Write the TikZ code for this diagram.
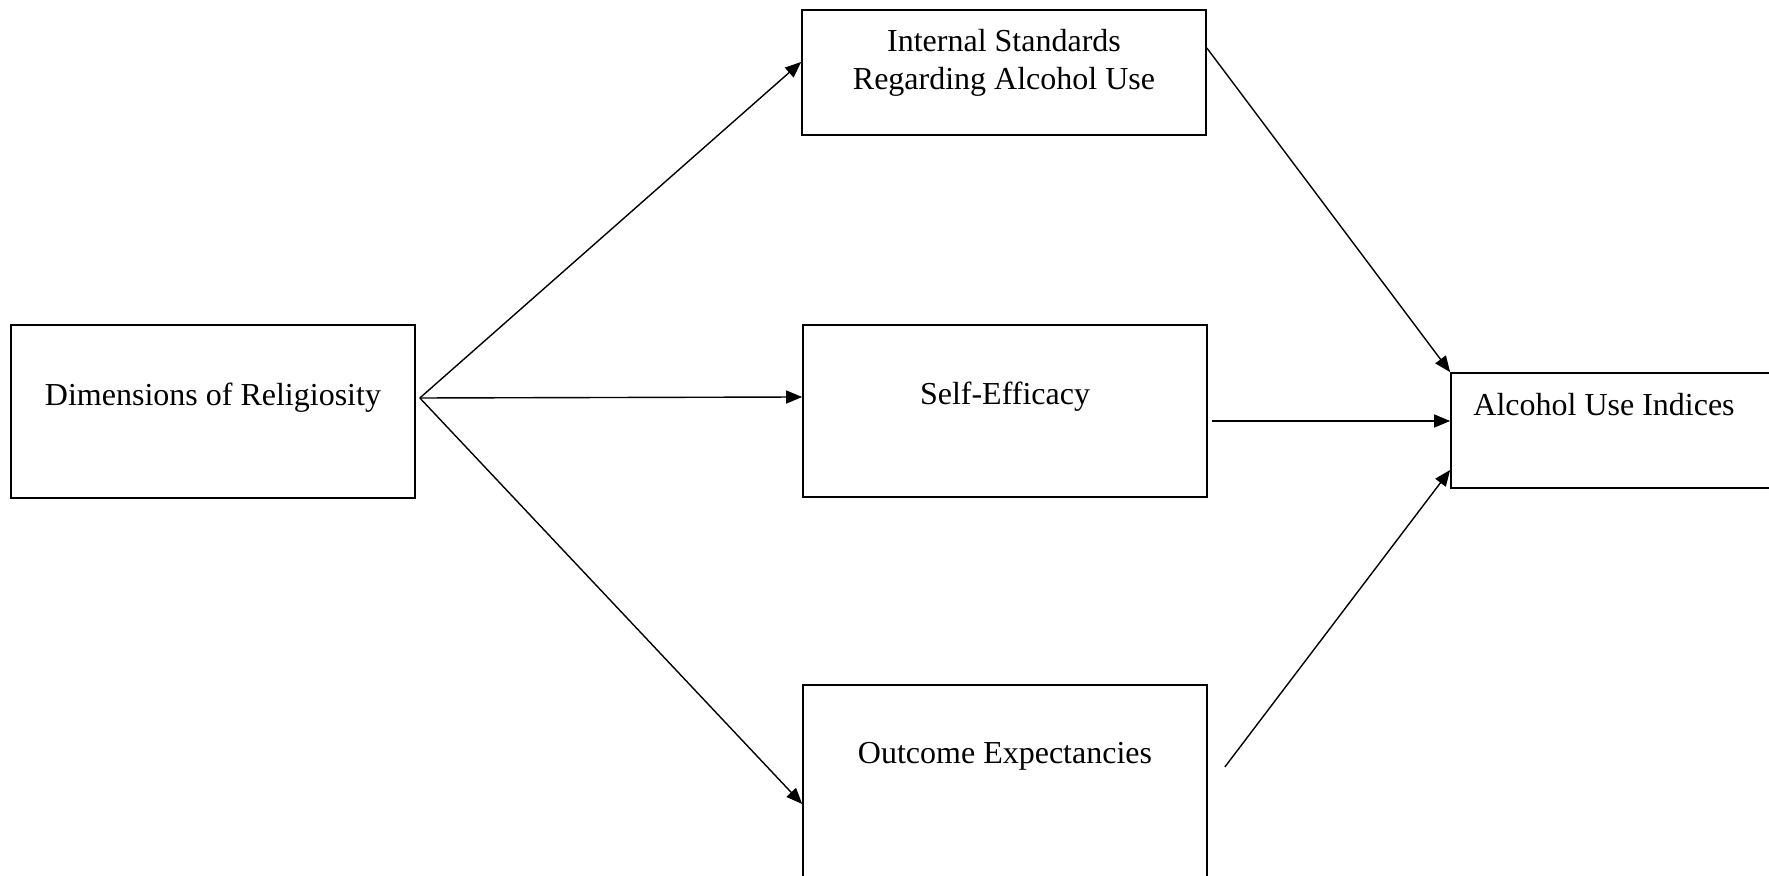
\documentclass[tikz,border=0pt]{standalone}
\usepackage{fontspec}
\setmainfont{Liberation Serif}
\usetikzlibrary{arrows.meta}
\tikzset{
  box/.style={draw=black, line width=0.85pt, rectangle, inner sep=0pt},
  txt/.style={inner sep=0pt, align=center, font=\fontsize{16}{19}\selectfont},
  arr/.style={line width=0.7pt, -{Triangle[length=8pt,width=6.5pt]}}
}
\begin{document}
\begin{tikzpicture}[x=0.5pt,y=-0.5pt]
\clip (0,0) rectangle (1769,876);
\fill[white] (0,0) rectangle (1769,876);
% boxes
\node[box, minimum width=202pt, minimum height=86.5pt] (dim) at (213,411.5) {};
\node[box, minimum width=202pt, minimum height=62.5pt] (ins) at (1004,72.5) {};
\node[box, minimum width=202pt, minimum height=86pt] (self) at (1005,411) {};
\node[box, minimum width=202pt, minimum height=107.5pt] (out) at (1005,792.5) {};
\node[box, minimum width=174.5pt, minimum height=57.5pt] (alc) at (1625.5,430.5) {};
% texts
\node[txt] (dimt) at (213,398) {Dimensions of Religiosity};
\node[txt] (inst) at (1004,62.5) {Internal Standards\\Regarding Alcohol Use};
\node[txt] (selft) at (1005,396.5) {Self-Efficacy};
\node[txt] (outt) at (1005,756.5) {Outcome Expectancies};
\node[txt, anchor=west] (alct) at (1473,405) {Alcohol Use Indices};
% connectors
\coordinate (o) at ([xshift=2pt,yshift=6.75pt]dim.east);
\draw[arr] (o) -- ([yshift=5.25pt]ins.west);
\draw[arr] (o) -- ([yshift=7pt]self.west);
\draw[arr] (o) -- ([yshift=-5.75pt]out.west);
\draw[arr] ([yshift=12.25pt]ins.east) -- (alc.north west);
\draw[arr] ([xshift=2pt,yshift=-5pt]self.east) -- ([yshift=4.75pt]alc.west);
\draw[arr] ([xshift=8.5pt,yshift=12.75pt]out.east) -- ([yshift=-19.75pt]alc.west);
\end{tikzpicture}
\end{document}
